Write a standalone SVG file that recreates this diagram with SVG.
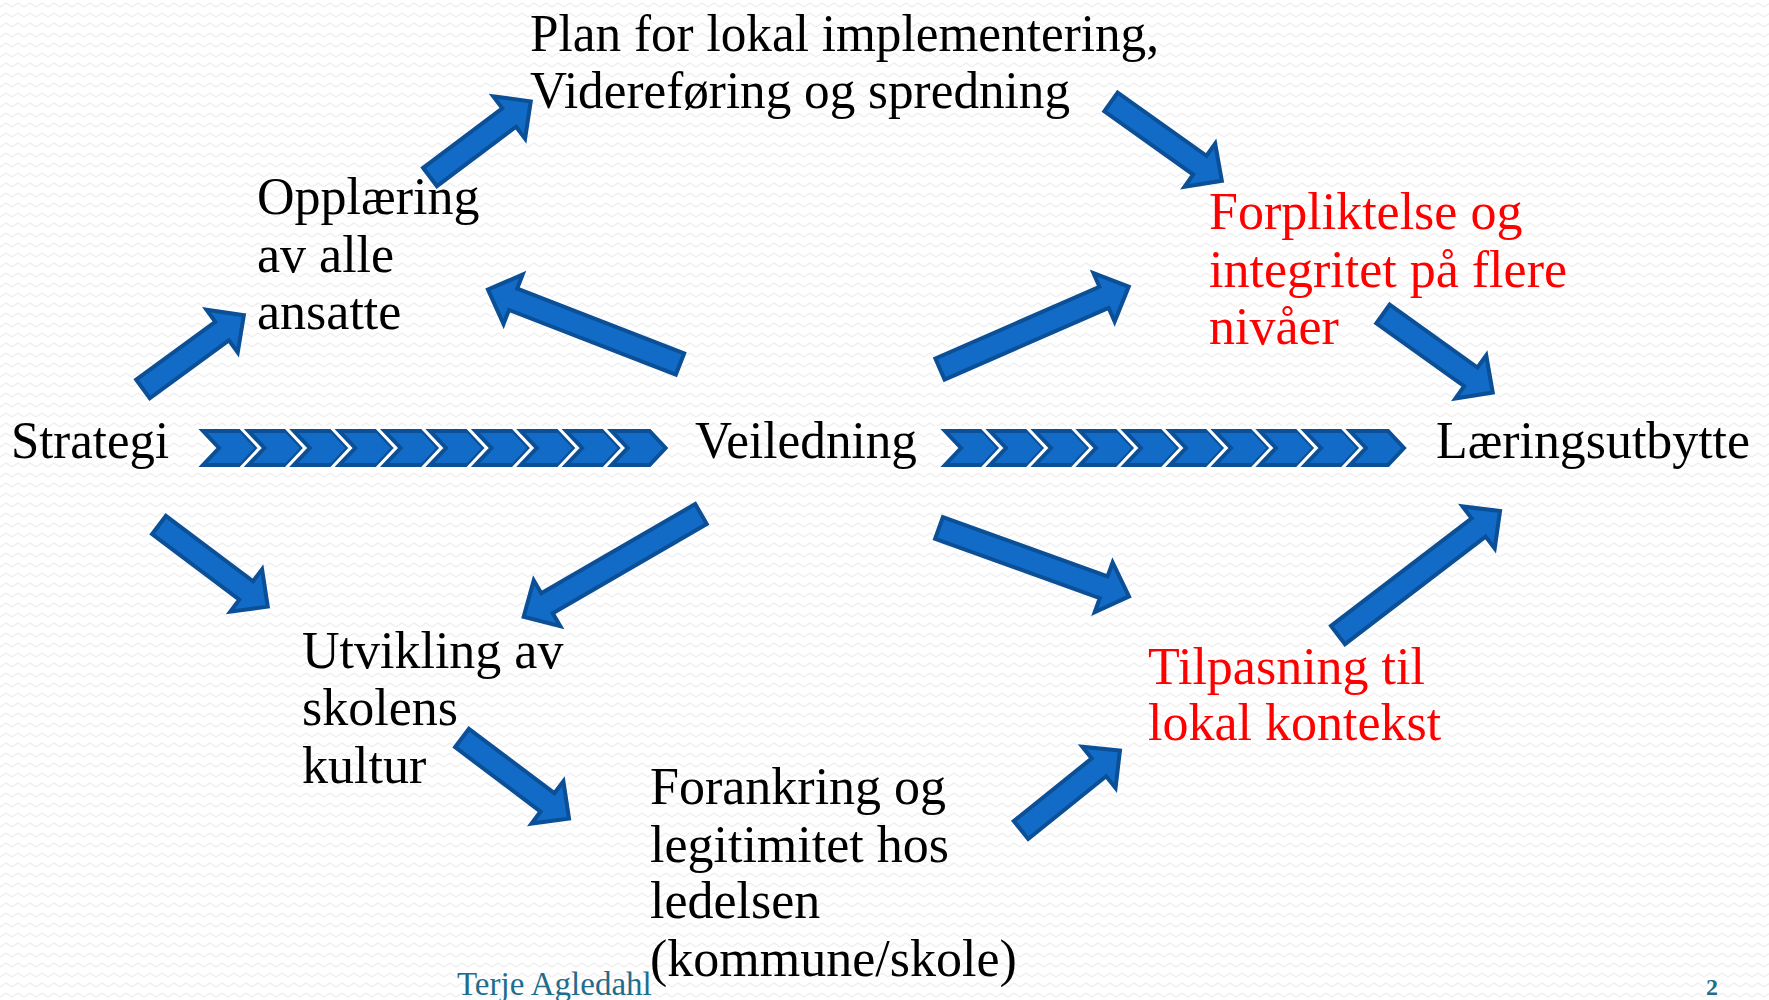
<svg xmlns="http://www.w3.org/2000/svg" width="1769" height="1000" viewBox="0 0 1769 1000">
<defs>
<pattern id="bg" width="12" height="10" patternUnits="userSpaceOnUse">
<path d="M0 7 L6 3 L12 7" fill="none" stroke="#eeeeee" stroke-width="1.3"/>
</pattern>
<path id="chevShape" d="M0 0 L38 0 L54 17 L38 34 L0 34 L16 17 Z"/>
<g id="chev">
<use href="#chevShape" fill="#ffffff" stroke="#ffffff" stroke-width="10" stroke-linejoin="miter"/>
<use href="#chevShape" fill="#126bc6" stroke="#0b4f96" stroke-width="4" stroke-linejoin="miter"/>
</g>
</defs>
<style>
.t{font-family:"Liberation Serif","Times New Roman",serif;font-size:52px;fill:#000}
.r{fill:#ff0000}
.ft{font-family:"Liberation Serif","Times New Roman",serif;fill:#1f6d8b}
.ar{fill:#126bc6;stroke:#0b4f96;stroke-width:4;stroke-linejoin:miter}
</style>
<rect width="1769" height="1000" fill="#ffffff"/>
<rect width="1769" height="1000" fill="url(#bg)"/>

<g id="connectors">
<g id="chevrons-left">
<use href="#chev" x="203" y="431"/>
<use href="#chev" x="248.4" y="431"/>
<use href="#chev" x="293.8" y="431"/>
<use href="#chev" x="339.2" y="431"/>
<use href="#chev" x="384.6" y="431"/>
<use href="#chev" x="430" y="431"/>
<use href="#chev" x="475.4" y="431"/>
<use href="#chev" x="520.8" y="431"/>
<use href="#chev" x="566.2" y="431"/>
<use href="#chev" x="611.6" y="431"/>
</g>
<g id="chevrons-right">
<use href="#chev" x="945" y="431"/>
<use href="#chev" x="990" y="431"/>
<use href="#chev" x="1035" y="431"/>
<use href="#chev" x="1080" y="431"/>
<use href="#chev" x="1125" y="431"/>
<use href="#chev" x="1170" y="431"/>
<use href="#chev" x="1215" y="431"/>
<use href="#chev" x="1260" y="431"/>
<use href="#chev" x="1305" y="431"/>
<use href="#chev" x="1350" y="431"/>
</g>
<path class="ar" transform="translate(143,389) rotate(-36.2)" d="M0 -11.5 L98 -11.5 L98 -26.5 L125 0 L98 26.5 L98 11.5 L0 11.5 Z"/>
<path class="ar" transform="translate(430,177) rotate(-36.9)" d="M0 -11.5 L99 -11.5 L99 -26.5 L126 0 L99 26.5 L99 11.5 L0 11.5 Z"/>
<path class="ar" transform="translate(1111,102) rotate(35.4)" d="M0 -11.5 L109 -11.5 L109 -26.5 L136 0 L109 26.5 L109 11.5 L0 11.5 Z"/>
<path class="ar" transform="translate(680,364) rotate(-158.8)" d="M0 -11.5 L179 -11.5 L179 -26.5 L206 0 L179 26.5 L179 11.5 L0 11.5 Z"/>
<path class="ar" transform="translate(940,369) rotate(-23.6)" d="M0 -11.5 L179 -11.5 L179 -26.5 L206 0 L179 26.5 L179 11.5 L0 11.5 Z"/>
<path class="ar" transform="translate(1383,314) rotate(35.6)" d="M0 -11.5 L108 -11.5 L108 -26.5 L135 0 L108 26.5 L108 11.5 L0 11.5 Z"/>
<path class="ar" transform="translate(159,525) rotate(36.9)" d="M0 -11.5 L109 -11.5 L109 -26.5 L136 0 L109 26.5 L109 11.5 L0 11.5 Z"/>
<path class="ar" transform="translate(701,514) rotate(149.9)" d="M0 -11.5 L178 -11.5 L178 -26.5 L205 0 L178 26.5 L178 11.5 L0 11.5 Z"/>
<path class="ar" transform="translate(939,528) rotate(19.8)" d="M0 -11.5 L175 -11.5 L175 -26.5 L202 0 L175 26.5 L175 11.5 L0 11.5 Z"/>
<path class="ar" transform="translate(462,738) rotate(37)" d="M0 -11.5 L107 -11.5 L107 -26.5 L134 0 L107 26.5 L107 11.5 L0 11.5 Z"/>
<path class="ar" transform="translate(1021,830) rotate(-38.8)" d="M0 -11.5 L100 -11.5 L100 -26.5 L127 0 L100 26.5 L100 11.5 L0 11.5 Z"/>
<path class="ar" transform="translate(1338,635) rotate(-37.4)" d="M0 -11.5 L177 -11.5 L177 -26.5 L204 0 L177 26.5 L177 11.5 L0 11.5 Z"/>
</g>

<g id="node-plan">
<text class="t" x="530" y="51" textLength="629" lengthAdjust="spacingAndGlyphs">Plan for lokal implementering,</text>
<text class="t" x="530" y="108" textLength="540" lengthAdjust="spacingAndGlyphs">Videreføring og spredning</text>
</g>
<g id="node-opplaering">
<text class="t" x="257" y="214">Opplæring</text>
<text class="t" x="257" y="272">av alle</text>
<text class="t" x="257" y="329">ansatte</text>
</g>
<g id="node-strategi">
<text class="t" x="11" y="458" textLength="158" lengthAdjust="spacingAndGlyphs">Strategi</text>
</g>
<g id="node-veiledning">
<text class="t" x="695" y="458" textLength="222" lengthAdjust="spacingAndGlyphs">Veiledning</text>
</g>
<g id="node-laeringsutbytte">
<text class="t" x="1436" y="458" textLength="314" lengthAdjust="spacingAndGlyphs">Læringsutbytte</text>
</g>
<g id="node-forpliktelse">
<text class="t r" x="1209" y="229">Forpliktelse og</text>
<text class="t r" x="1209" y="287">integritet på flere</text>
<text class="t r" x="1209" y="344">nivåer</text>
</g>
<g id="node-utvikling">
<text class="t" x="302" y="668">Utvikling av</text>
<text class="t" x="302" y="725">skolens</text>
<text class="t" x="302" y="783">kultur</text>
</g>
<g id="node-forankring">
<text class="t" x="650" y="804">Forankring og</text>
<text class="t" x="650" y="862">legitimitet hos</text>
<text class="t" x="650" y="918">ledelsen</text>
<text class="t" x="650" y="976">(kommune/skole)</text>
</g>
<g id="node-tilpasning">
<text class="t r" x="1148" y="684">Tilpasning til</text>
<text class="t r" x="1148" y="740">lokal kontekst</text>
</g>
<g id="footer">
<text class="ft" x="457" y="995" font-size="33">Terje Agledahl</text>
<text class="ft" x="1706" y="995" font-size="24" font-weight="bold">2</text>
</g>
</svg>
